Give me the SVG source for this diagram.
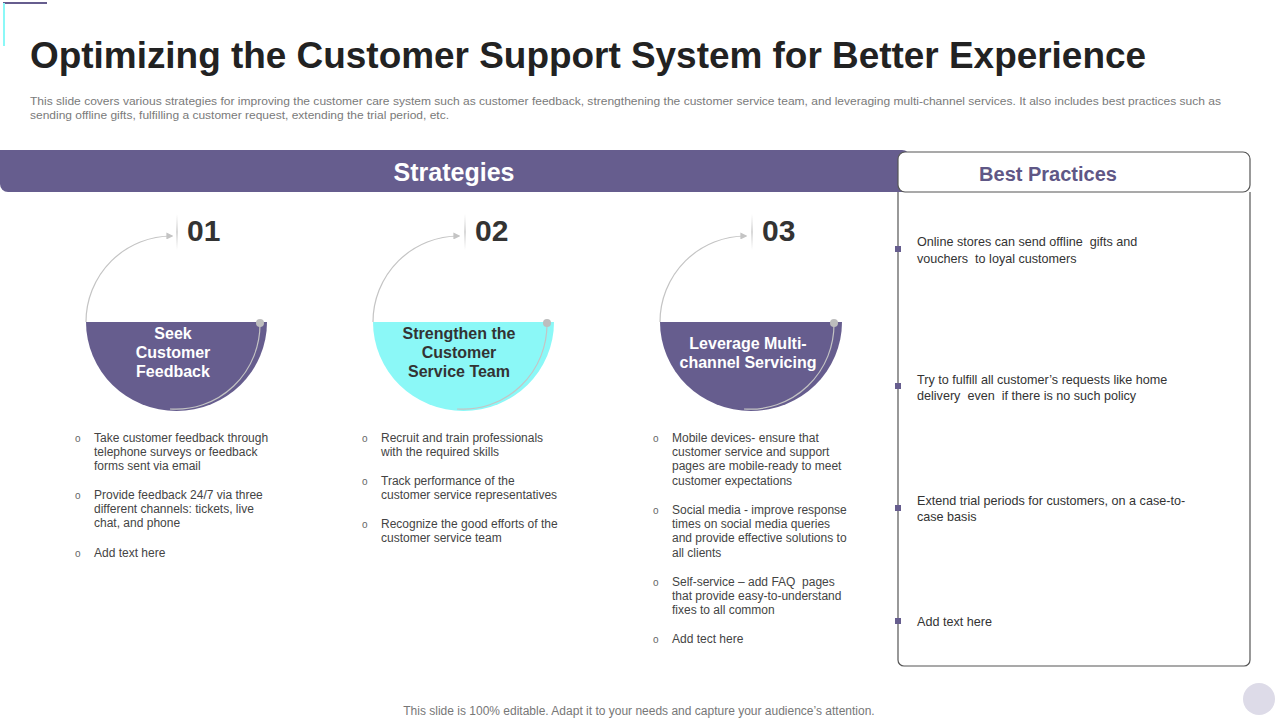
<svg xmlns="http://www.w3.org/2000/svg" width="1280" height="720" viewBox="0 0 1280 720">
<defs>
<style>
.title{font-family:"Liberation Sans",Arial,sans-serif;font-weight:bold;font-size:37px;fill:#222}
.sub{font-family:"Liberation Sans",Arial,sans-serif;font-size:11px;fill:#7a7a7a}
.band{font-family:"Liberation Sans",Arial,sans-serif;font-weight:bold;font-size:25px;fill:#fff}
.bph{font-family:"Liberation Sans",Arial,sans-serif;font-weight:bold;font-size:20px;fill:#5f5786}
.num{font-family:"Liberation Sans",Arial,sans-serif;font-weight:bold;font-size:30px;fill:#333}
.lbl{font-family:"Liberation Sans",Arial,sans-serif;font-weight:bold;font-size:16px;text-anchor:middle}
.bt{font-family:"Liberation Sans",Arial,sans-serif;font-size:12px;fill:#444}
.dot{font-family:"Liberation Sans",Arial,sans-serif;font-size:10px;fill:#666}
.bp{font-family:"Liberation Sans",Arial,sans-serif;font-size:12.6px;fill:#333}
.foot{font-family:"Liberation Sans",Arial,sans-serif;font-size:12px;fill:#777;text-anchor:middle}
.arc{fill:none;stroke:#c4c4c4;stroke-width:1.2}
.purple{fill:#665d8e}
.cyan{fill:#8bf8f7}
</style>
<marker id="ah" viewBox="0 0 10 10" refX="8" refY="5" markerWidth="7" markerHeight="7" orient="auto" markerUnits="userSpaceOnUse">
<path d="M0,0 L10,5 L0,10 Z" fill="#c4c4c4"/>
</marker>
<linearGradient id="sep" x1="0" y1="0" x2="0" y2="1">
<stop offset="0" stop-color="#e0e0e0" stop-opacity="0"/>
<stop offset="0.5" stop-color="#d8d8d8" stop-opacity="1"/>
<stop offset="1" stop-color="#e0e0e0" stop-opacity="0"/>
</linearGradient>
</defs>
<rect width="1280" height="720" fill="#fff"/>

<g id="corner-deco">
<line x1="3" y1="3" x2="47" y2="3" stroke="#665d8e" stroke-width="2"/>
<line x1="4" y1="3" x2="4" y2="46" stroke="#8bf8f7" stroke-width="2"/>
</g>

<g id="header">
<text class="title" x="30" y="68" textLength="1116" lengthAdjust="spacingAndGlyphs">Optimizing the Customer Support System for Better Experience</text>
<text class="sub" x="30" y="105" textLength="1191" lengthAdjust="spacingAndGlyphs">This slide covers various strategies for improving the customer care system such as customer feedback, strengthening the customer service team, and leveraging multi-channel services. It also includes best practices such as</text>
<text class="sub" x="30" y="119" textLength="419" lengthAdjust="spacingAndGlyphs">sending offline gifts, fulfilling a customer request, extending the trial period, etc.</text>
</g>

<g id="strategies-band">
<path d="M0,150 H902 A8,8 0 0 1 910,158 V192 H8 A8,8 0 0 1 0,184 Z" class="purple"/>
<text class="band" x="454" y="181" text-anchor="middle">Strategies</text>
</g>

<g id="best-practices">
<path d="M898,192 V660 A6,6 0 0 0 904,666 H1244 A6,6 0 0 0 1250,660 V192" fill="#fff" stroke="#555" stroke-width="1.2"/>
<rect x="898" y="152" width="352" height="40" rx="7" fill="#fff" stroke="#555" stroke-width="1.2"/>
<text class="bph" x="1048" y="181" text-anchor="middle">Best Practices</text>
<rect x="895" y="246" width="6" height="6" class="purple"/>
<rect x="895" y="383" width="6" height="6" class="purple"/>
<rect x="895" y="505" width="6" height="6" class="purple"/>
<rect x="895" y="618" width="6" height="6" class="purple"/>
<text class="bp" x="917" y="246" xml:space="preserve">Online stores can send offline  gifts and</text>
<text class="bp" x="917" y="263" xml:space="preserve">vouchers  to loyal customers</text>
<text class="bp" x="917" y="384">Try to fulfill all customer’s requests like home</text>
<text class="bp" x="917" y="400" xml:space="preserve">delivery  even  if there is no such policy</text>
<text class="bp" x="917" y="505">Extend trial periods for customers, on a case-to-</text>
<text class="bp" x="917" y="521">case basis</text>
<text class="bp" x="917" y="626">Add text here</text>
</g>

<g id="connectors">
<path class="arc" d="M86,322 A86,86 0 0 1 172,236" marker-end="url(#ah)"/>
<path class="arc" d="M373,322 A86,86 0 0 1 459,236" marker-end="url(#ah)"/>
<path class="arc" d="M660,322 A86,86 0 0 1 746,236" marker-end="url(#ah)"/>
</g>

<g id="step-1">
<rect x="176" y="214" width="2" height="36" fill="url(#sep)"/>
<text class="num" x="187" y="241">01</text>
<path d="M86,322 H267 A90.5,89 0 0 1 86,322 Z" class="purple"/>
<path class="arc" d="M260,323 A84,85 0 0 1 170,409"/>
<circle cx="260" cy="323" r="4" fill="#bdbdbd"/>
<text class="lbl" x="173" y="339" fill="#fff">Seek</text>
<text class="lbl" x="173" y="358" fill="#fff">Customer</text>
<text class="lbl" x="173" y="377" fill="#fff">Feedback</text>
</g>

<g id="step-2">
<rect x="464" y="214" width="2" height="36" fill="url(#sep)"/>
<text class="num" x="475" y="241">02</text>
<path d="M373,322 H554 A90.5,89 0 0 1 373,322 Z" class="cyan"/>
<path class="arc" d="M547,323 A84,85 0 0 1 457,409"/>
<circle cx="547" cy="323" r="4" fill="#bdbdbd"/>
<text class="lbl" x="459" y="339" fill="#333">Strengthen the</text>
<text class="lbl" x="459" y="358" fill="#333">Customer</text>
<text class="lbl" x="459" y="377" fill="#333">Service Team</text>
</g>

<g id="step-3">
<rect x="751" y="214" width="2" height="36" fill="url(#sep)"/>
<text class="num" x="762" y="241">03</text>
<path d="M660,322 H842 A91,89 0 0 1 660,322 Z" class="purple"/>
<path class="arc" d="M834,323 A84,85 0 0 1 744,409"/>
<circle cx="834" cy="323" r="4" fill="#bdbdbd"/>
<text class="lbl" x="748" y="349" fill="#fff">Leverage Multi-</text>
<text class="lbl" x="748" y="368" fill="#fff">channel Servicing</text>
</g>

<g id="list-1">
<text class="dot" x="75" y="442">o</text>
<text class="bt" x="94" y="442">Take customer feedback through</text>
<text class="bt" x="94" y="456">telephone surveys or feedback</text>
<text class="bt" x="94" y="470">forms sent via email</text>
<text class="dot" x="75" y="499">o</text>
<text class="bt" x="94" y="499">Provide feedback 24/7 via three</text>
<text class="bt" x="94" y="513">different channels: tickets, live</text>
<text class="bt" x="94" y="527">chat, and phone</text>
<text class="dot" x="75" y="557">o</text>
<text class="bt" x="94" y="557">Add text here</text>
</g>

<g id="list-2">
<text class="dot" x="362" y="442">o</text>
<text class="bt" x="381" y="442">Recruit and train professionals</text>
<text class="bt" x="381" y="456">with the required skills</text>
<text class="dot" x="362" y="485">o</text>
<text class="bt" x="381" y="485">Track performance of the</text>
<text class="bt" x="381" y="499">customer service representatives</text>
<text class="dot" x="362" y="528">o</text>
<text class="bt" x="381" y="528">Recognize the good efforts of the</text>
<text class="bt" x="381" y="542">customer service team</text>
</g>

<g id="list-3">
<text class="dot" x="653" y="442">o</text>
<text class="bt" x="672" y="442">Mobile devices- ensure that</text>
<text class="bt" x="672" y="456">customer service and support</text>
<text class="bt" x="672" y="470">pages are mobile-ready to meet</text>
<text class="bt" x="672" y="485">customer expectations</text>
<text class="dot" x="653" y="514">o</text>
<text class="bt" x="672" y="514">Social media - improve response</text>
<text class="bt" x="672" y="528">times on social media queries</text>
<text class="bt" x="672" y="542">and provide effective solutions to</text>
<text class="bt" x="672" y="557">all clients</text>
<text class="dot" x="653" y="586">o</text>
<text class="bt" x="672" y="586" xml:space="preserve">Self-service – add FAQ  pages</text>
<text class="bt" x="672" y="600">that provide easy-to-understand</text>
<text class="bt" x="672" y="614">fixes to all common</text>
<text class="dot" x="653" y="643">o</text>
<text class="bt" x="672" y="643">Add tect here</text>
</g>

<g id="footer">
<text class="foot" x="639" y="715">This slide is 100% editable. Adapt it to your needs and capture your audience’s attention.</text>
<circle cx="1259" cy="699" r="16" fill="#dddbe8"/>
</g>
</svg>
